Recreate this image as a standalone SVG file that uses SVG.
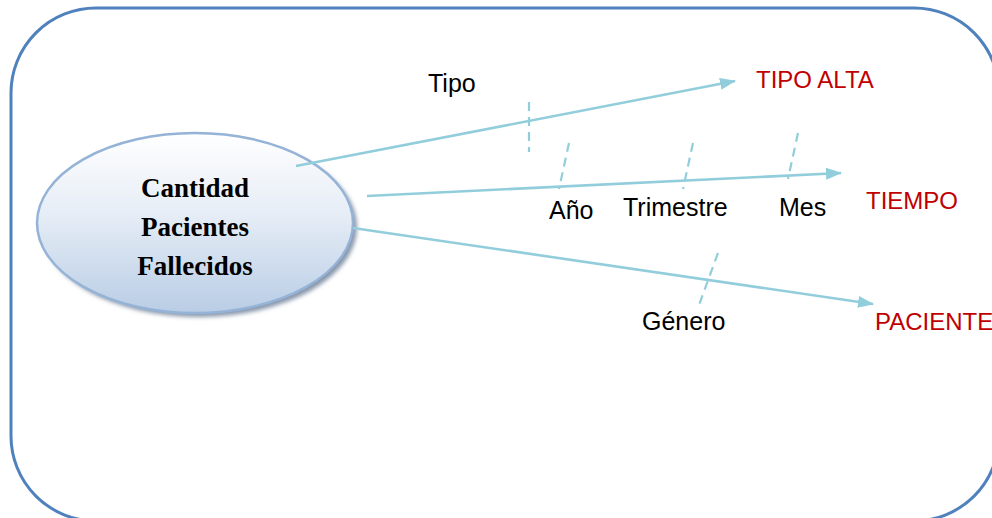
<svg xmlns="http://www.w3.org/2000/svg" width="992" height="518" viewBox="0 0 992 518">
  <style>
    .frame { fill: none; stroke: #4f81bd; stroke-width: 3; }
    .link { fill: none; stroke: #92cddc; stroke-width: 2.6; }
    .tick { fill: none; stroke: #92cddc; stroke-width: 2.2; stroke-dasharray: 9 6; }
    .lbl { font-family: "Liberation Sans", Arial, sans-serif; font-size: 25px; fill: #000; }
    .dim { font-family: "Liberation Sans", Arial, sans-serif; font-size: 24px; fill: #c00000; }
    .title { font-family: "Liberation Serif", "Times New Roman", serif; font-size: 27px; font-weight: bold; fill: #000; text-anchor: middle; }
  </style>
  <defs>
    <linearGradient id="bubble" x1="0" y1="0" x2="0" y2="1">
      <stop offset="0" stop-color="#ffffff"/>
      <stop offset="0.45" stop-color="#e6edf6"/>
      <stop offset="1" stop-color="#b9cde5"/>
    </linearGradient>
    <filter id="soft" x="-10%" y="-10%" width="120%" height="130%">
      <feGaussianBlur stdDeviation="2"/>
    </filter>
    <marker id="arrow" viewBox="0 0 16 12" refX="15" refY="6" markerWidth="16" markerHeight="12" markerUnits="userSpaceOnUse" orient="auto">
      <path d="M0,0 L16,6 L0,12 Z" fill="#92cddc"/>
    </marker>
  </defs>

  <rect id="frame" class="frame" x="11" y="8" width="988" height="513" rx="85" ry="85"/>

  <g id="fact">
    <ellipse cx="199" cy="227" rx="158" ry="90" fill="#8796aa" filter="url(#soft)"/>
    <ellipse cx="195" cy="223" rx="158" ry="90" fill="url(#bubble)" stroke="#95b3d7" stroke-width="2.5"/>
    <text class="title" x="195" y="197">Cantidad</text>
    <text class="title" x="195" y="236">Pacientes</text>
    <text class="title" x="195" y="275">Fallecidos</text>
  </g>

  <g id="connectors">
    <line class="link" x1="296" y1="166" x2="735" y2="81" marker-end="url(#arrow)"/>
    <line class="link" x1="367" y1="196" x2="841" y2="173" marker-end="url(#arrow)"/>
    <line class="link" x1="353" y1="228" x2="873" y2="304" marker-end="url(#arrow)"/>
    <line class="tick" x1="529" y1="102" x2="529" y2="152"/>
    <line class="tick" x1="569" y1="143" x2="559" y2="189"/>
    <line class="tick" x1="693" y1="143" x2="683" y2="189"/>
    <line class="tick" x1="798" y1="133" x2="788" y2="179"/>
    <line class="tick" x1="718" y1="253" x2="699" y2="305"/>
  </g>

  <g id="tipo-alta">
    <text class="dim" x="756" y="88">TIPO ALTA</text>
    <text class="lbl" x="428" y="92">Tipo</text>
  </g>

  <g id="tiempo">
    <text class="dim" x="866" y="209">TIEMPO</text>
    <text class="lbl" x="549" y="219">Año</text>
    <text class="lbl" x="623" y="216">Trimestre</text>
    <text class="lbl" x="779" y="216">Mes</text>
  </g>

  <g id="paciente">
    <text class="dim" x="875" y="330">PACIENTE</text>
    <text class="lbl" x="642" y="330">Género</text>
  </g>
</svg>
